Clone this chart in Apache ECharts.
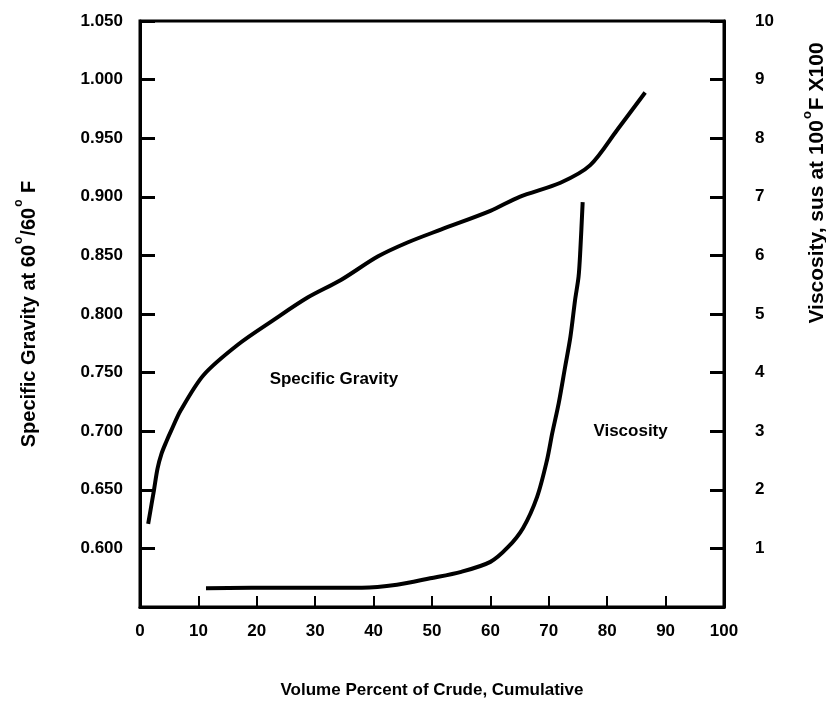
<!DOCTYPE html>
<html>
<head>
<meta charset="utf-8">
<script src="https://cdn.jsdelivr.net/npm/echarts@6/dist/echarts.min.js"></script>
<style>
  html, body { margin: 0; padding: 0; background: #fff; }
  #chart { width: 826px; height: 704px; }
</style>
</head>
<body>
<div id="chart"></div>
<script>
// Volume percent of crude (cumulative) vs specific gravity
const gravityPct = [1.4, 2.4, 3.0, 3.7, 4.5, 5.3, 7.0, 10.9, 16.8, 22.9, 28.7, 34.4, 40.7, 45.8, 51.5, 60, 65, 72.0, 77.1, 81.7, 86.5];
const gravityVal = [0.621, 0.650, 0.668, 0.681, 0.691, 0.700, 0.718, 0.748, 0.774, 0.795, 0.814, 0.829, 0.849, 0.861, 0.872, 0.888, 0.900, 0.912, 0.927, 0.957, 0.989];

// Volume percent of crude (cumulative) vs viscosity, SUS at 100°F x100
const viscPct = [11.3, 25, 38, 44, 49.7, 55, 60, 63, 65.6, 68, 69.7, 70.6, 71.7, 72.8, 73.7, 74.5, 75.1, 75.4, 75.8];
const viscVal = [0.32, 0.33, 0.33, 0.38, 0.49, 0.60, 0.77, 1.02, 1.35, 1.88, 2.51, 2.97, 3.48, 4.10, 4.61, 5.24, 5.64, 6.09, 6.91];

// Axis ranges and tick steps
const xTicks = { min: 0, max: 100, step: 10 };
const gravityTicks = { min: 0.55, max: 1.05, step: 0.05 };
const viscTicks = { min: 0, max: 10, step: 1 };

const FONT = '"Liberation Sans", Arial, sans-serif';
const INK = '#000';

const gravityData = gravityPct.map((x, i) => [x, gravityVal[i]]);
const viscData = viscPct.map((x, i) => [x, viscVal[i]]);

// Rich-text styles for rotated axis titles with a raised degree mark
function titleRich(size) {
  return {
    t: { fontFamily: FONT, fontSize: size, fontWeight: 'bold', color: INK, lineHeight: size + 6, verticalAlign: 'bottom' },
    s: { fontFamily: FONT, fontSize: Math.round(size * 0.6), fontWeight: 'bold', color: INK, lineHeight: size + 6, verticalAlign: 'top', padding: [0, 1, Math.round(size * 0.55), 1] }
  };
}

// Invisible anchor used to place in-plot curve captions
function caption(text, coord) {
  return {
    symbol: 'rect',
    symbolSize: 1,
    itemStyle: { color: 'rgba(0,0,0,0)' },
    label: { show: true, position: 'inside', formatter: text, fontFamily: FONT, fontSize: 17, fontWeight: 'bold', color: INK },
    data: [{ coord: coord }]
  };
}

const chart = echarts.init(document.getElementById('chart'), null, { renderer: 'canvas' });

chart.setOption({
  animation: false,
  backgroundColor: '#fff',
  grid: {
    left: 140, right: 102, top: 21, bottom: 97,
    containLabel: false,
    outerBoundsMode: 'none',
    show: true, borderColor: INK, borderWidth: 3, backgroundColor: 'transparent'
  },
  xAxis: {
    type: 'value',
    min: xTicks.min, max: xTicks.max, interval: xTicks.step,
    name: 'Volume Percent of Crude, Cumulative',
    nameLocation: 'middle',
    nameGap: 75,
    nameTextStyle: { fontFamily: FONT, fontSize: 17, color: INK, fontWeight: 'bold' },
    axisLine: { show: true, lineStyle: { color: INK, width: 3 } },
    axisTick: { show: true, inside: true, length: 11, lineStyle: { color: INK, width: 2 } },
    axisLabel: { fontFamily: FONT, fontSize: 17, fontWeight: 'bold', color: INK, margin: 16 },
    splitLine: { show: false }
  },
  yAxis: [
    {
      type: 'value',
      position: 'left',
      min: gravityTicks.min, max: gravityTicks.max, interval: gravityTicks.step,
      name: '{t|Specific Gravity at 60}{s|o}{t|/60}{s|o}{t| F}',
      nameLocation: 'middle',
      nameRotate: 90,
      nameGap: 101,
      nameTextStyle: { rich: titleRich(20) },
      axisLine: { show: true, lineStyle: { color: INK, width: 3 } },
      axisTick: { show: true, inside: true, length: 15, lineStyle: { color: INK, width: 3 } },
      axisLabel: {
        fontFamily: FONT, fontSize: 17, fontWeight: 'bold', color: INK, margin: 17,
        formatter: v => (Math.abs(v - gravityTicks.min) < 1e-9 ? '' : v.toFixed(3))
      },
      splitLine: { show: false }
    },
    {
      type: 'value',
      position: 'right',
      min: viscTicks.min, max: viscTicks.max, interval: viscTicks.step,
      name: '{t|Viscosity, sus at 100}{s|o}{t|F X100}',
      nameLocation: 'middle',
      nameRotate: 90,
      nameGap: 77,
      nameTextStyle: {
        padding: [0, 0, 0, 262],
        rich: titleRich(21)
      },
      axisLine: { show: true, lineStyle: { color: INK, width: 3 } },
      axisTick: { show: true, inside: true, length: 14, lineStyle: { color: INK, width: 3 } },
      axisLabel: {
        fontFamily: FONT, fontSize: 17, fontWeight: 'bold', color: INK, margin: 31,
        formatter: v => (v === viscTicks.min ? '' : String(v))
      },
      splitLine: { show: false }
    }
  ],
  series: [
    {
      name: 'Specific Gravity',
      type: 'line',
      yAxisIndex: 0,
      data: gravityData,
      smooth: 0.3,
      showSymbol: false,
      lineStyle: { color: INK, width: 4 },
      markPoint: caption('Specific Gravity', [33.2, 0.744])
    },
    {
      name: 'Viscosity',
      type: 'line',
      yAxisIndex: 1,
      data: viscData,
      smooth: 0.3,
      showSymbol: false,
      lineStyle: { color: INK, width: 4 },
      markPoint: caption('Viscosity', [84, 2.99])
    }
  ]
});
</script>
</body>
</html>
